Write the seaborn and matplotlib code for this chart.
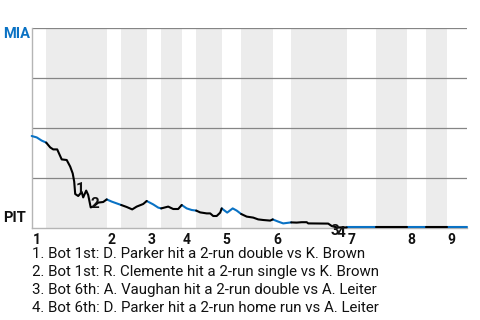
import numpy as np
import pandas as pd
import matplotlib
matplotlib.use("Agg")
import matplotlib.pyplot as plt
import seaborn as sns

# ---- data -------------------------------------------------------------
# game progress (plate-appearance scale) and MIA win probability
event_x = [0, 1.0, 2.0, 2.9,
           3.7, 4.3, 5.1, 6.0, 7.0, 7.7, 8.2, 8.5, 8.7, 9.3, 10.0, 10.3, 10.9, 11.3, 11.8, 12.3, 13.3, 14.3, 15.0,
           16.0, 17.0, 17.9,
           19.0, 20.1, 21.0, 22.3, 23.0,
           24.3, 25.3, 25.9,
           27.3, 28.3, 29.3, 30.0,
           31.0, 32.0, 32.9,
           33.7, 35.0, 35.7, 36.3, 37.0, 37.7, 38.0,
           39.1, 40.2, 41.0, 41.9,
           43.0, 44.3, 45.3, 46.3, 47.7, 48.2,
           49.3, 50.3, 51.9,
           53.0, 54.0, 55.0, 55.3, 59.3, 60.0, 61.0, 63.0,
           65.0, 67.0, 68.9,
           71.0, 73.0, 75.0,
           77.0, 78.9,
           81.0, 83.0,
           85.0, 87.0]
event_p = [0.460, 0.453, 0.437, 0.427,
           0.403, 0.393, 0.393, 0.343, 0.340, 0.307, 0.273, 0.232, 0.170, 0.160, 0.180, 0.153, 0.187, 0.165, 0.103, 0.107, 0.127, 0.130, 0.143,
           0.132, 0.123, 0.115,
           0.105, 0.093, 0.107, 0.120, 0.135,
           0.118, 0.102, 0.098,
           0.107, 0.095, 0.095, 0.115,
           0.098, 0.090, 0.087,
           0.078, 0.073, 0.073, 0.060, 0.060, 0.077, 0.098,
           0.077, 0.098, 0.087, 0.070,
           0.057, 0.052, 0.043, 0.040, 0.037, 0.043,
           0.032, 0.023, 0.028,
           0.027, 0.029, 0.029, 0.023, 0.022, 0.010, 0.003, 0.003,
           0.003, 0.003, 0.003,
           0.003, 0.003, 0.003,
           0.003, 0.003,
           0.003, 0.003,
           0.003, 0.003]

top_starts = [0, 15.0, 23.0, 30.0, 38.0, 48.2, 63.0, 75.0, 83.0]
bot_starts = [2.9, 17.9, 25.9, 32.9, 41.9, 51.9, 68.9, 78.9]
game_end = 87.0
inning_labels = ["1", "2", "3", "4", "5", "6", "7", "8", "9"]

teams = ["MIA", "PIT"]
key_labels = ["1", "2", "3", "4"]
key_x = [9.7, 12.7, 60.6, 61.8]
key_p = [0.195, 0.118, -0.015, -0.027]
key_notes = [
    "1. Bot 1st: D. Parker hit a 2-run double vs K. Brown",
    "2. Bot 1st: R. Clemente hit a 2-run single vs K. Brown",
    "3. Bot 6th: A. Vaughan hit a 2-run double vs A. Leiter",
    "4. Bot 6th: D. Parker hit a 2-run home run vs A. Leiter",
]

# ---- build segments ----------------------------------------------------
bounds = sorted([(s, "top") for s in top_starts] + [(s, "bot") for s in bot_starts])
rows = []
for i, (s, side) in enumerate(bounds):
    e = bounds[i + 1][0] if i + 1 < len(bounds) else game_end
    for x, p in zip(event_x, event_p):
        if s - 1e-9 <= x <= e + 1e-9:
            rows.append({"x": x, "p": p, "seg": i, "side": side})
df = pd.DataFrame(rows)

BLUE = "#0a72c4"
sns.set_theme(style="white")
plt.rcParams["font.family"] = ["Roboto", "DejaVu Sans"]

fig = plt.figure(figsize=(4.8, 3.2), dpi=100)
ax = fig.add_axes([31.7 / 480, 1 - 228 / 320, 435 / 480, 200 / 320])

for s in bot_starts:
    nxt = [t for t in top_starts if t > s]
    e = nxt[0] if nxt else game_end
    ax.axvspan(s, e, color="#ececec", lw=0, zorder=0)

for y in [0.25, 0.5, 0.75, 1.0]:
    ax.axhline(y, color="#858585", lw=0.9, zorder=1)

sns.lineplot(data=df, x="x", y="p", hue="side", units="seg", estimator=None,
             sort=False, palette={"top": BLUE, "bot": "#000000"},
             legend=False, lw=1.5, ax=ax, zorder=5, clip_on=False)

ax.set_xlim(0, game_end)
ax.set_ylim(0, 1)
ax.set_xticks([])
ax.set_yticks([])
ax.set_xlabel("")
ax.set_ylabel("")
for sp in ["top", "right"]:
    ax.spines[sp].set_visible(False)
ax.spines["left"].set_color("#b5b5b5")
ax.spines["bottom"].set_color("#b5b5b5")
ax.spines["left"].set_linewidth(1.0)
ax.spines["bottom"].set_linewidth(1.0)

# inning labels
for x, lab in zip(top_starts, inning_labels):
    ax.text(x + 0.2, -0.025, lab, ha="left", va="top", fontsize=10,
            fontweight="bold", color="#111111", clip_on=False, zorder=6)

# key event markers
for x, p, lab in zip(key_x, key_p, key_labels):
    ax.text(x, p, lab, ha="center", va="center", fontsize=11,
            fontweight="bold", color="#111111", clip_on=False, zorder=7)

# team labels
fig.text(3 / 480, 1 - 34 / 320, teams[0], ha="left", va="center",
         fontsize=10.5, fontweight="bold", color=BLUE)
fig.text(3 / 480, 1 - 218.5 / 320, teams[1], ha="left", va="center",
         fontsize=10.5, fontweight="bold", color="#111111")

# notes
for i, note in enumerate(key_notes):
    fig.text(32 / 480, 1 - (258.3 + 17.8 * i) / 320, note, ha="left",
             va="baseline", fontsize=10.8, color="#111111")

fig.savefig("out.png", dpi=100)
